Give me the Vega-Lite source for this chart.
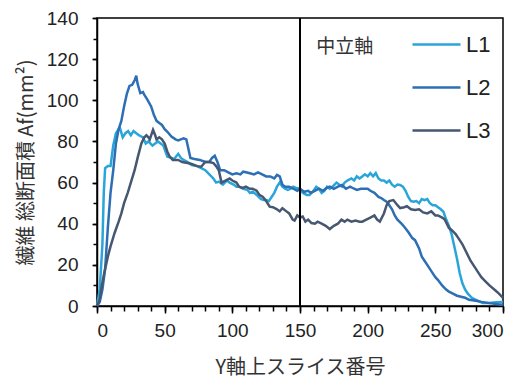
{
  "$schema": "https://vega.github.io/schema/vega-lite/v6.json",
  "width": 406,
  "height": 288,
  "autosize": "none",
  "padding": {"left": 97, "top": 18, "right": 25, "bottom": 72},
  "background": "white",
  "config": {
    "view": {"stroke": "#000", "strokeWidth": 1.5},
    "axis": {"grid": false, "domainColor": "#000", "domainWidth": 1.5, "tickColor": "#000", "tickWidth": 1.5, "labelFont": "Liberation Sans", "labelFontSize": 19, "labelColor": "#222", "titleFont": "Noto Sans CJK JP", "titleFontWeight": "normal", "titleFontSize": 20, "titleColor": "#333"},
    "legend": {"labelFont": "Liberation Sans", "labelFontSize": 22, "labelColor": "#222"}
  },
  "datasets": {
    "lines": [
      {"s":"L1","x":0,"y":0},{"s":"L1","x":2,"y":8},{"s":"L1","x":4,"y":30},{"s":"L1","x":5,"y":55},{"s":"L1","x":6,"y":67},{"s":"L1","x":8,"y":68},{"s":"L1","x":10,"y":68},{"s":"L1","x":12,"y":78},{"s":"L1","x":14,"y":84},{"s":"L1","x":16,"y":86},{"s":"L1","x":17,"y":86.5},{"s":"L1","x":19,"y":82},{"s":"L1","x":21,"y":84},{"s":"L1","x":23,"y":85},{"s":"L1","x":25,"y":83},{"s":"L1","x":27,"y":85},{"s":"L1","x":29,"y":84},{"s":"L1","x":31,"y":83},{"s":"L1","x":34,"y":82},{"s":"L1","x":36,"y":79},{"s":"L1","x":38,"y":80},{"s":"L1","x":41,"y":78},{"s":"L1","x":43,"y":79},{"s":"L1","x":45,"y":80},{"s":"L1","x":47,"y":79},{"s":"L1","x":49,"y":78},{"s":"L1","x":52,"y":72.6},{"s":"L1","x":55,"y":72},{"s":"L1","x":57,"y":71.5},{"s":"L1","x":60,"y":74},{"s":"L1","x":62,"y":72},{"s":"L1","x":64,"y":71},{"s":"L1","x":67,"y":70},{"s":"L1","x":70,"y":68.5},{"s":"L1","x":74,"y":68},{"s":"L1","x":77,"y":67},{"s":"L1","x":80,"y":66},{"s":"L1","x":83,"y":64},{"s":"L1","x":86,"y":62},{"s":"L1","x":88,"y":60},{"s":"L1","x":90,"y":60.5},{"s":"L1","x":93,"y":59},{"s":"L1","x":96,"y":61},{"s":"L1","x":98,"y":60},{"s":"L1","x":101,"y":59},{"s":"L1","x":103,"y":58},{"s":"L1","x":105,"y":58},{"s":"L1","x":108,"y":57},{"s":"L1","x":111,"y":56.5},{"s":"L1","x":113,"y":55},{"s":"L1","x":115,"y":55.6},{"s":"L1","x":118,"y":54},{"s":"L1","x":121,"y":52},{"s":"L1","x":123,"y":51.5},{"s":"L1","x":125,"y":51.5},{"s":"L1","x":127,"y":51},{"s":"L1","x":129,"y":53},{"s":"L1","x":131,"y":55},{"s":"L1","x":133,"y":58},{"s":"L1","x":135,"y":60},{"s":"L1","x":137,"y":58},{"s":"L1","x":139,"y":57},{"s":"L1","x":141,"y":56.4},{"s":"L1","x":143,"y":57},{"s":"L1","x":145,"y":58},{"s":"L1","x":147,"y":57.4},{"s":"L1","x":150,"y":57},{"s":"L1","x":152,"y":55},{"s":"L1","x":155,"y":54},{"s":"L1","x":157,"y":54},{"s":"L1","x":160,"y":56},{"s":"L1","x":162,"y":58},{"s":"L1","x":164,"y":57},{"s":"L1","x":166,"y":55},{"s":"L1","x":168,"y":56},{"s":"L1","x":170,"y":58},{"s":"L1","x":172,"y":57},{"s":"L1","x":174,"y":58},{"s":"L1","x":177,"y":60},{"s":"L1","x":179,"y":59},{"s":"L1","x":181,"y":58},{"s":"L1","x":183,"y":60},{"s":"L1","x":185,"y":61},{"s":"L1","x":188,"y":62},{"s":"L1","x":190,"y":61},{"s":"L1","x":192,"y":63},{"s":"L1","x":194,"y":62},{"s":"L1","x":196,"y":63},{"s":"L1","x":198,"y":64},{"s":"L1","x":200,"y":63},{"s":"L1","x":202,"y":64.6},{"s":"L1","x":204,"y":63},{"s":"L1","x":206,"y":64.6},{"s":"L1","x":208,"y":62},{"s":"L1","x":210,"y":61},{"s":"L1","x":212,"y":61},{"s":"L1","x":214,"y":60},{"s":"L1","x":216,"y":61},{"s":"L1","x":218,"y":59},{"s":"L1","x":220,"y":58},{"s":"L1","x":222,"y":59},{"s":"L1","x":224,"y":58.8},{"s":"L1","x":226,"y":58},{"s":"L1","x":228,"y":56},{"s":"L1","x":230,"y":53},{"s":"L1","x":232,"y":51},{"s":"L1","x":234,"y":50.7},{"s":"L1","x":236,"y":51},{"s":"L1","x":238,"y":50},{"s":"L1","x":240,"y":52},{"s":"L1","x":242,"y":51.5},{"s":"L1","x":244,"y":52},{"s":"L1","x":246,"y":50},{"s":"L1","x":248,"y":49},{"s":"L1","x":250,"y":49},{"s":"L1","x":252,"y":48},{"s":"L1","x":254,"y":47},{"s":"L1","x":256,"y":45.8},{"s":"L1","x":258,"y":42},{"s":"L1","x":260,"y":39},{"s":"L1","x":262,"y":35},{"s":"L1","x":264,"y":29},{"s":"L1","x":266,"y":23},{"s":"L1","x":268,"y":16},{"s":"L1","x":270,"y":11},{"s":"L1","x":272,"y":8},{"s":"L1","x":274,"y":6},{"s":"L1","x":277,"y":4},{"s":"L1","x":280,"y":3},{"s":"L1","x":285,"y":1.5},{"s":"L1","x":290,"y":1.5},{"s":"L1","x":295,"y":1.8},{"s":"L1","x":300,"y":2},
      {"s":"L2","x":0,"y":0},{"s":"L2","x":2,"y":2},{"s":"L2","x":4,"y":8},{"s":"L2","x":6,"y":18},{"s":"L2","x":8,"y":38},{"s":"L2","x":10,"y":55},{"s":"L2","x":12,"y":66},{"s":"L2","x":14,"y":79},{"s":"L2","x":16,"y":86},{"s":"L2","x":18,"y":90},{"s":"L2","x":20,"y":97},{"s":"L2","x":22,"y":103},{"s":"L2","x":24,"y":107},{"s":"L2","x":26,"y":107.5},{"s":"L2","x":28,"y":110},{"s":"L2","x":29,"y":112},{"s":"L2","x":30,"y":108},{"s":"L2","x":32,"y":103.5},{"s":"L2","x":34,"y":104},{"s":"L2","x":35,"y":102.6},{"s":"L2","x":37,"y":100.6},{"s":"L2","x":40,"y":97},{"s":"L2","x":42,"y":93},{"s":"L2","x":44,"y":90},{"s":"L2","x":46,"y":89},{"s":"L2","x":48,"y":88},{"s":"L2","x":50,"y":86},{"s":"L2","x":52,"y":84.7},{"s":"L2","x":55,"y":82.4},{"s":"L2","x":58,"y":81},{"s":"L2","x":60,"y":80.5},{"s":"L2","x":62,"y":81},{"s":"L2","x":64,"y":81.5},{"s":"L2","x":66,"y":81},{"s":"L2","x":67,"y":78},{"s":"L2","x":69,"y":72},{"s":"L2","x":72,"y":71.5},{"s":"L2","x":76,"y":71},{"s":"L2","x":80,"y":70},{"s":"L2","x":83,"y":70},{"s":"L2","x":85,"y":72},{"s":"L2","x":87,"y":73},{"s":"L2","x":89,"y":70},{"s":"L2","x":91,"y":66},{"s":"L2","x":94,"y":66},{"s":"L2","x":97,"y":65},{"s":"L2","x":100,"y":64},{"s":"L2","x":103,"y":64.5},{"s":"L2","x":106,"y":64},{"s":"L2","x":108,"y":65.3},{"s":"L2","x":110,"y":65},{"s":"L2","x":113,"y":64.5},{"s":"L2","x":116,"y":64},{"s":"L2","x":119,"y":65},{"s":"L2","x":122,"y":64},{"s":"L2","x":125,"y":63},{"s":"L2","x":128,"y":63},{"s":"L2","x":131,"y":62},{"s":"L2","x":133,"y":63.7},{"s":"L2","x":135,"y":63},{"s":"L2","x":137,"y":59},{"s":"L2","x":139,"y":58},{"s":"L2","x":142,"y":58},{"s":"L2","x":145,"y":57},{"s":"L2","x":148,"y":56},{"s":"L2","x":150,"y":57},{"s":"L2","x":153,"y":55.5},{"s":"L2","x":156,"y":56},{"s":"L2","x":158,"y":55},{"s":"L2","x":161,"y":56},{"s":"L2","x":164,"y":57},{"s":"L2","x":167,"y":56},{"s":"L2","x":170,"y":57.5},{"s":"L2","x":172,"y":58},{"s":"L2","x":175,"y":57},{"s":"L2","x":178,"y":58},{"s":"L2","x":181,"y":58.8},{"s":"L2","x":184,"y":57},{"s":"L2","x":187,"y":58},{"s":"L2","x":190,"y":57},{"s":"L2","x":192,"y":56.4},{"s":"L2","x":195,"y":57},{"s":"L2","x":198,"y":57},{"s":"L2","x":200,"y":57},{"s":"L2","x":202,"y":56},{"s":"L2","x":205,"y":55},{"s":"L2","x":208,"y":53},{"s":"L2","x":210,"y":52.5},{"s":"L2","x":212,"y":51.5},{"s":"L2","x":214,"y":50.7},{"s":"L2","x":216,"y":49},{"s":"L2","x":218,"y":47},{"s":"L2","x":220,"y":44},{"s":"L2","x":222,"y":42},{"s":"L2","x":225,"y":40},{"s":"L2","x":227,"y":38.5},{"s":"L2","x":230,"y":36},{"s":"L2","x":233,"y":33},{"s":"L2","x":235,"y":32},{"s":"L2","x":238,"y":28},{"s":"L2","x":240,"y":24},{"s":"L2","x":242,"y":22},{"s":"L2","x":245,"y":19},{"s":"L2","x":248,"y":16},{"s":"L2","x":250,"y":14},{"s":"L2","x":252,"y":12.6},{"s":"L2","x":255,"y":10},{"s":"L2","x":258,"y":8},{"s":"L2","x":260,"y":7},{"s":"L2","x":263,"y":6},{"s":"L2","x":266,"y":5},{"s":"L2","x":269,"y":4.5},{"s":"L2","x":272,"y":4},{"s":"L2","x":275,"y":3},{"s":"L2","x":280,"y":2.5},{"s":"L2","x":284,"y":2},{"s":"L2","x":290,"y":1.4},{"s":"L2","x":295,"y":1},{"s":"L2","x":300,"y":0.5},
      {"s":"L3","x":0,"y":0},{"s":"L3","x":2,"y":3},{"s":"L3","x":3,"y":7.8},{"s":"L3","x":5,"y":15},{"s":"L3","x":8,"y":24},{"s":"L3","x":10,"y":29},{"s":"L3","x":13,"y":35.5},{"s":"L3","x":16,"y":41},{"s":"L3","x":18,"y":45},{"s":"L3","x":20,"y":50},{"s":"L3","x":22.7,"y":55},{"s":"L3","x":25,"y":60},{"s":"L3","x":27.8,"y":66},{"s":"L3","x":30,"y":72},{"s":"L3","x":32.8,"y":79},{"s":"L3","x":35,"y":82},{"s":"L3","x":36.5,"y":83},{"s":"L3","x":38,"y":82},{"s":"L3","x":39,"y":81},{"s":"L3","x":41.4,"y":85.6},{"s":"L3","x":43,"y":83},{"s":"L3","x":44,"y":81},{"s":"L3","x":46,"y":82},{"s":"L3","x":48,"y":81},{"s":"L3","x":50,"y":79},{"s":"L3","x":52,"y":75},{"s":"L3","x":53.7,"y":72.6},{"s":"L3","x":56,"y":71},{"s":"L3","x":60,"y":71},{"s":"L3","x":63,"y":70},{"s":"L3","x":67,"y":69.5},{"s":"L3","x":70,"y":69},{"s":"L3","x":74,"y":68},{"s":"L3","x":77,"y":67.7},{"s":"L3","x":80,"y":70},{"s":"L3","x":83,"y":70},{"s":"L3","x":86,"y":69.5},{"s":"L3","x":88,"y":68},{"s":"L3","x":90,"y":66},{"s":"L3","x":92,"y":60},{"s":"L3","x":95,"y":61},{"s":"L3","x":98,"y":62},{"s":"L3","x":100,"y":61},{"s":"L3","x":103,"y":60},{"s":"L3","x":105,"y":58},{"s":"L3","x":107.7,"y":57.4},{"s":"L3","x":110,"y":58},{"s":"L3","x":113,"y":57},{"s":"L3","x":115,"y":57},{"s":"L3","x":118,"y":56},{"s":"L3","x":120,"y":54},{"s":"L3","x":122.6,"y":53},{"s":"L3","x":125,"y":51},{"s":"L3","x":127.6,"y":48.3},{"s":"L3","x":130,"y":48},{"s":"L3","x":133,"y":47},{"s":"L3","x":135,"y":46},{"s":"L3","x":137,"y":47.5},{"s":"L3","x":140,"y":46},{"s":"L3","x":142,"y":45},{"s":"L3","x":144.6,"y":42},{"s":"L3","x":146,"y":41.5},{"s":"L3","x":148,"y":44},{"s":"L3","x":150,"y":43},{"s":"L3","x":152,"y":43.5},{"s":"L3","x":154,"y":41},{"s":"L3","x":156,"y":42},{"s":"L3","x":158.5,"y":40.3},{"s":"L3","x":161,"y":40},{"s":"L3","x":163,"y":41},{"s":"L3","x":166,"y":40},{"s":"L3","x":169,"y":39},{"s":"L3","x":172,"y":37.4},{"s":"L3","x":175,"y":39},{"s":"L3","x":178,"y":40},{"s":"L3","x":180.6,"y":42},{"s":"L3","x":183,"y":41},{"s":"L3","x":185,"y":42},{"s":"L3","x":188,"y":41},{"s":"L3","x":191,"y":41.5},{"s":"L3","x":194,"y":41},{"s":"L3","x":196,"y":41},{"s":"L3","x":199,"y":42},{"s":"L3","x":202,"y":43},{"s":"L3","x":205,"y":44},{"s":"L3","x":207,"y":42},{"s":"L3","x":209,"y":41},{"s":"L3","x":212,"y":45},{"s":"L3","x":214,"y":49},{"s":"L3","x":216,"y":51},{"s":"L3","x":219,"y":51.5},{"s":"L3","x":222,"y":49},{"s":"L3","x":224,"y":47.6},{"s":"L3","x":227,"y":48},{"s":"L3","x":229,"y":48.5},{"s":"L3","x":232,"y":47},{"s":"L3","x":235,"y":46.7},{"s":"L3","x":238,"y":47},{"s":"L3","x":241,"y":45.5},{"s":"L3","x":244,"y":45},{"s":"L3","x":247,"y":46},{"s":"L3","x":250,"y":44},{"s":"L3","x":252,"y":44},{"s":"L3","x":255,"y":43},{"s":"L3","x":257,"y":42},{"s":"L3","x":260,"y":38},{"s":"L3","x":262,"y":37},{"s":"L3","x":265,"y":35},{"s":"L3","x":268,"y":32},{"s":"L3","x":270,"y":30},{"s":"L3","x":273,"y":26},{"s":"L3","x":276,"y":22},{"s":"L3","x":279,"y":19},{"s":"L3","x":282,"y":16},{"s":"L3","x":284,"y":14},{"s":"L3","x":287,"y":12},{"s":"L3","x":290,"y":10},{"s":"L3","x":294,"y":7.8},{"s":"L3","x":297,"y":6},{"s":"L3","x":300,"y":4}
    ],
    "neutral": [{"x": 150}],
    "note": [{"x": 162, "y": 126, "label": "中立軸"}]
  },
  "layer": [
    {
      "data": {"name": "lines"},
      "mark": {"type": "line", "strokeWidth": 2.5, "interpolate": "linear"},
      "encoding": {
        "x": {"field": "x", "type": "quantitative", "scale": {"domain": [0, 300], "nice": false},
              "axis": {"values": [0, 50, 100, 150, 200, 250, 300], "tickSize": 7, "labelPadding": 8, "title": "Y軸上スライス番号", "titlePadding": 17}},
        "y": {"field": "y", "type": "quantitative", "scale": {"domain": [0, 140], "nice": false},
              "axis": {"values": [0, 20, 40, 60, 80, 100, 120, 140], "tickSize": 5, "labelPadding": 14, "title": "繊維 総断面積  Af(mm²)", "titlePadding": 10}},
        "color": {"field": "s", "type": "nominal",
                  "scale": {"domain": ["L1", "L2", "L3"], "range": ["#2aa5d9", "#2c6fb4", "#465772"]},
                  "legend": {"title": null, "orient": "none", "legendX": 314, "legendY": 1, "symbolType": "stroke", "symbolSize": 2304, "symbolStrokeWidth": 2.5, "labelOffset": 4, "rowPadding": 6, "padding": 0}}
      }
    },
    {
      "data": {"name": "neutral"},
      "mark": {"type": "rule", "color": "#000", "strokeWidth": 2},
      "encoding": {
        "x": {"field": "x", "type": "quantitative", "scale": {"domain": [0, 300], "nice": false},
              "axis": {"orient": "bottom", "values": [0,10,20,30,40,50,60,70,80,90,100,110,120,130,140,150,160,170,180,190,200,210,220,230,240,250,260,270,280,290,300], "labels": false, "domain": false, "tickSize": 5, "title": null}}
      }
    },
    {
      "data": {"name": "note"},
      "mark": {"type": "text", "font": "Noto Sans CJK JP", "fontSize": 19, "color": "#333", "align": "left", "baseline": "middle"},
      "encoding": {
        "x": {"field": "x", "type": "quantitative", "scale": {"domain": [0, 300], "nice": false}, "axis": null},
        "y": {"field": "y", "type": "quantitative", "scale": {"domain": [0, 140], "nice": false},
              "axis": {"orient": "left", "values": [0,10,20,30,40,50,60,70,80,90,100,110,120,130,140], "labels": false, "domain": false, "tickSize": 4, "title": null}},
        "text": {"field": "label"}
      }
    }
  ],
  "resolve": {"scale": {"x": "independent", "y": "independent"}}
}
